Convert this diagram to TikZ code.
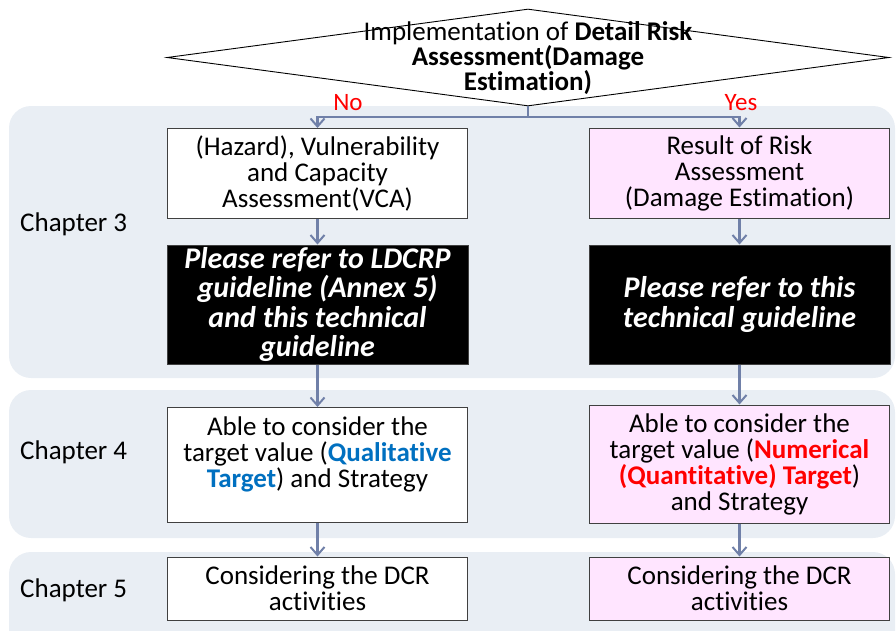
\documentclass[tikz,border=0pt]{standalone}
\usepackage{fontspec}
\setmainfont{Carlito}[Ligatures={NoCommon}]
\usetikzlibrary{arrows.meta,shapes.geometric}
\definecolor{panel}{HTML}{E9EEF4}
\definecolor{arrc}{HTML}{7080A8}
\definecolor{pinkf}{HTML}{FFE5FF}
\definecolor{qblue}{HTML}{0070C0}
\definecolor{boxline}{HTML}{404040}
\begin{document}
\begin{tikzpicture}[x=1pt,y=-1pt,
  panelbox/.style={fill=panel, rounded corners=22pt},
  wbox/.style={draw=boxline, line width=1pt, fill=white, minimum width=300pt, inner sep=0pt, align=center, font=\fontsize{27}{26}\selectfont},
  pbox/.style={wbox, fill=pinkf},
  bbox/.style={draw=boxline, line width=1pt, fill=black, text=white, minimum width=301pt, minimum height=119pt, inner sep=0pt, align=center, font=\fontsize{30}{29.5}\selectfont\bfseries\itshape},
  chap/.style={anchor=west, inner sep=0pt, font=\fontsize{27}{26}\selectfont},
  yn/.style={text=red, inner sep=0pt, font=\fontsize{25}{25}\selectfont},
  conn/.style={draw=arrc, line width=2.3pt},
  arr/.style={conn, -{Straight Barb[length=8pt,width=14pt,line width=2pt]}}
]
\useasboundingbox (0,0) rectangle (896,630);
\clip (0,0) rectangle (896,630);
% chapter panels
\fill[panelbox] (9,106) rectangle (895,378);
\fill[panelbox] (9,390) rectangle (895,538);
\fill[panelbox] (9,552) rectangle (895,660);
% decision
\node[draw, line width=0.9pt, diamond, minimum width=722pt, minimum height=97pt, inner sep=0pt] (dec) at (528,57.5) {};
\node[align=center, inner sep=0pt, font=\fontsize{27}{25}\selectfont] (dect) at (528,58) {Implementation of \textbf{Detail Risk}\\\textbf{Assessment(Damage}\\\textbf{Estimation)}};
\coordinate (j) at (528,117);
% left column
\node[wbox, minimum height=90pt] (L1) at (317.5,173.5) {(Hazard), Vulnerability\\and Capacity\\Assessment(VCA)};
\node[bbox] (L2) at (317.5,304.5) {Please refer to LDCRP\\guideline (Annex 5)\\and this technical\\guideline};
\node[wbox, minimum height=115pt] (L3) at (317.5,465) {Able to consider the\\target value (\textcolor{qblue}{\textbf{Qualitative}}\\\textcolor{qblue}{\textbf{Target}}) and Strategy\\\mbox{}};
\node[wbox, minimum height=63pt] (L4) at (317.5,588.5) {Considering the DCR\\activities};
% right column
\node[pbox, minimum height=90pt] (R1) at (739.5,173) {Result of Risk\\Assessment\\(Damage Estimation)};
\node[bbox] (R2) at (739.5,304.5) {Please refer to this\\technical guideline};
\node[pbox, minimum height=118pt] (R3) at (739.5,464) {Able to consider the\\target value (\textcolor{red}{\textbf{Numerical}}\\\textcolor{red}{\textbf{(Quantitative) Target}})\\and Strategy};
\node[pbox, minimum height=63pt] (R4) at (739.5,588.5) {Considering the DCR\\activities};
% chapter labels
\node[chap] (c3) at (20,224) {Chapter 3};
\node[chap] (c4) at (20,452) {Chapter 4};
\node[chap] (c5) at (20,590) {Chapter 5};
% yes / no
\node[yn] (no) at (348,103) {No};
\node[yn] (yes) at (741,103) {Yes};
% connectors
\draw[conn] (dec.south) -- (j);
\draw[arr] (j) -| (L1.north);
\draw[arr] (j) -| (R1.north);
\draw[arr] (L1.south) -- (L2.north);
\draw[arr] (L2.south) -- (L3.north);
\draw[arr] (L3.south) -- (L4.north);
\draw[arr] (R1.south) -- (R2.north);
\draw[arr] (R2.south) -- (R3.north);
\draw[arr] (R3.south) -- (R4.north);
\end{tikzpicture}
\end{document}
